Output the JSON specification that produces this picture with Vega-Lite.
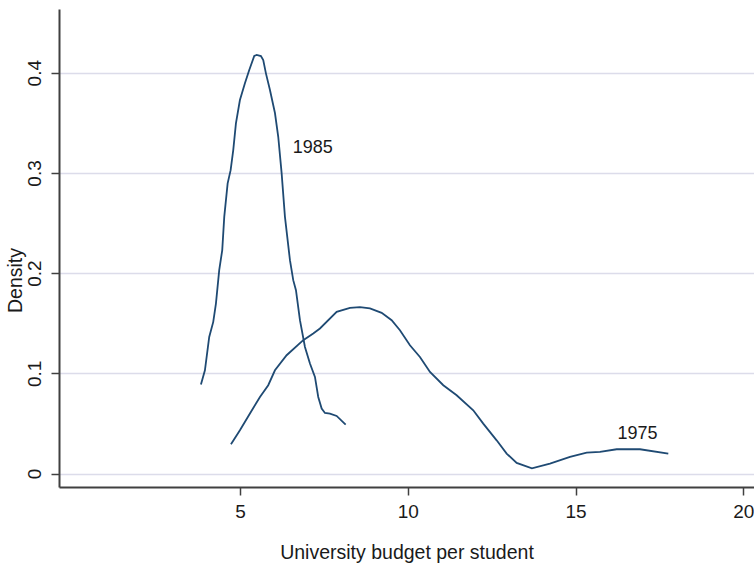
{
  "$schema": "https://vega.github.io/schema/vega-lite/v6.json",
  "width": 695,
  "height": 478,
  "autosize": {"type": "none"},
  "padding": {"left": 59, "top": 9, "right": 0, "bottom": 82},
  "background": "white",
  "config": {"view": {"stroke": null}, "font": "Liberation Sans"},
  "datasets": {
    "curves": [
      {"year": "1985", "x": 3.836, "y": 0.0889},
      {"year": "1985", "x": 3.955, "y": 0.1031},
      {"year": "1985", "x": 4.083, "y": 0.1364},
      {"year": "1985", "x": 4.203, "y": 0.1514},
      {"year": "1985", "x": 4.283, "y": 0.1697},
      {"year": "1985", "x": 4.381, "y": 0.2030},
      {"year": "1985", "x": 4.471, "y": 0.2230},
      {"year": "1985", "x": 4.531, "y": 0.2562},
      {"year": "1985", "x": 4.632, "y": 0.2896},
      {"year": "1985", "x": 4.721, "y": 0.3028},
      {"year": "1985", "x": 4.799, "y": 0.3228},
      {"year": "1985", "x": 4.879, "y": 0.3495},
      {"year": "1985", "x": 4.998, "y": 0.3728},
      {"year": "1985", "x": 5.147, "y": 0.3894},
      {"year": "1985", "x": 5.276, "y": 0.4027},
      {"year": "1985", "x": 5.425, "y": 0.4167},
      {"year": "1985", "x": 5.496, "y": 0.4177},
      {"year": "1985", "x": 5.624, "y": 0.4167},
      {"year": "1985", "x": 5.693, "y": 0.4127},
      {"year": "1985", "x": 5.773, "y": 0.3994},
      {"year": "1985", "x": 5.893, "y": 0.3828},
      {"year": "1985", "x": 6.042, "y": 0.3598},
      {"year": "1985", "x": 6.140, "y": 0.3361},
      {"year": "1985", "x": 6.241, "y": 0.2999},
      {"year": "1985", "x": 6.340, "y": 0.2562},
      {"year": "1985", "x": 6.489, "y": 0.2130},
      {"year": "1985", "x": 6.587, "y": 0.1930},
      {"year": "1985", "x": 6.668, "y": 0.1830},
      {"year": "1985", "x": 6.787, "y": 0.1531},
      {"year": "1985", "x": 6.936, "y": 0.1264},
      {"year": "1985", "x": 7.085, "y": 0.1098},
      {"year": "1985", "x": 7.234, "y": 0.0965},
      {"year": "1985", "x": 7.332, "y": 0.0765},
      {"year": "1985", "x": 7.434, "y": 0.0649},
      {"year": "1985", "x": 7.532, "y": 0.0605},
      {"year": "1985", "x": 7.681, "y": 0.0599},
      {"year": "1985", "x": 7.881, "y": 0.0575},
      {"year": "1985", "x": 8.149, "y": 0.0489},
      {"year": "1975", "x": 4.731, "y": 0.0293},
      {"year": "1975", "x": 4.998, "y": 0.0433},
      {"year": "1975", "x": 5.297, "y": 0.0599},
      {"year": "1975", "x": 5.595, "y": 0.0765},
      {"year": "1975", "x": 5.842, "y": 0.0882},
      {"year": "1975", "x": 6.042, "y": 0.1031},
      {"year": "1975", "x": 6.390, "y": 0.1181},
      {"year": "1975", "x": 6.885, "y": 0.1331},
      {"year": "1975", "x": 7.183, "y": 0.1398},
      {"year": "1975", "x": 7.383, "y": 0.1448},
      {"year": "1975", "x": 7.881, "y": 0.1614},
      {"year": "1975", "x": 8.277, "y": 0.1654},
      {"year": "1975", "x": 8.575, "y": 0.1662},
      {"year": "1975", "x": 8.873, "y": 0.1648},
      {"year": "1975", "x": 9.222, "y": 0.1604},
      {"year": "1975", "x": 9.520, "y": 0.1531},
      {"year": "1975", "x": 9.767, "y": 0.1431},
      {"year": "1975", "x": 10.065, "y": 0.1281},
      {"year": "1975", "x": 10.363, "y": 0.1164},
      {"year": "1975", "x": 10.662, "y": 0.1014},
      {"year": "1975", "x": 11.059, "y": 0.0882},
      {"year": "1975", "x": 11.457, "y": 0.0782},
      {"year": "1975", "x": 11.952, "y": 0.0632},
      {"year": "1975", "x": 12.250, "y": 0.0499},
      {"year": "1975", "x": 12.649, "y": 0.0332},
      {"year": "1975", "x": 12.947, "y": 0.0200},
      {"year": "1975", "x": 13.246, "y": 0.0106},
      {"year": "1975", "x": 13.700, "y": 0.0052},
      {"year": "1975", "x": 14.238, "y": 0.0100},
      {"year": "1975", "x": 14.835, "y": 0.0166},
      {"year": "1975", "x": 15.332, "y": 0.0210},
      {"year": "1975", "x": 15.729, "y": 0.0216},
      {"year": "1975", "x": 16.226, "y": 0.0243},
      {"year": "1975", "x": 16.921, "y": 0.0243},
      {"year": "1975", "x": 17.765, "y": 0.0200}
    ],
    "labels": [
      {"label": "1985", "x": 6.57, "y": 0.3248},
      {"label": "1975", "x": 16.25, "y": 0.0399}
    ]
  },
  "layer": [
    {
      "data": {"name": "curves"},
      "mark": {"type": "line", "color": "#1f4a73", "strokeWidth": 1.8},
      "encoding": {
        "x": {
          "field": "x",
          "type": "quantitative",
          "scale": {"domain": [-0.394, 20.319], "nice": false, "zero": false},
          "axis": {
            "values": [5, 10, 15, 20],
            "grid": false,
            "domainColor": "#404040",
            "domainWidth": 2,
            "tickColor": "#404040",
            "tickWidth": 1.5,
            "tickSize": 8,
            "labelFontSize": 19,
            "labelColor": "#1a1a1a",
            "labelPadding": 7,
            "labelFlush": false,
            "labelOverlap": false,
            "title": "University budget per student",
            "titleFontSize": 19.5,
            "titleFontWeight": "normal",
            "titleColor": "#1a1a1a",
            "titlePadding": 22
          }
        },
        "y": {
          "field": "y",
          "type": "quantitative",
          "scale": {"domain": [-0.01338, 0.4636], "nice": false, "zero": false},
          "axis": {
            "values": [0, 0.1, 0.2, 0.3, 0.4],
            "format": "~g",
            "grid": true,
            "gridColor": "#dcdcea",
            "gridWidth": 1.5,
            "domainColor": "#404040",
            "domainWidth": 2,
            "tickColor": "#404040",
            "tickWidth": 1.5,
            "tickSize": 8,
            "labelFontSize": 19,
            "labelColor": "#1a1a1a",
            "labelAngle": -90,
            "labelAlign": "center",
            "labelBaseline": "middle",
            "labelPadding": 16.5,
            "labelFlush": false,
            "labelOverlap": false,
            "title": "Density",
            "titleFontSize": 19.5,
            "titleFontWeight": "normal",
            "titleColor": "#1a1a1a",
            "titleAngle": -90,
            "titleAlign": "center",
            "titleBaseline": "middle",
            "titleX": -44,
            "titleY": 271
          }
        },
        "detail": {"field": "year"}
      }
    },
    {
      "data": {"name": "labels"},
      "mark": {"type": "text", "align": "left", "baseline": "middle", "fontSize": 18, "color": "#1a1a1a"},
      "encoding": {
        "x": {"field": "x", "type": "quantitative"},
        "y": {"field": "y", "type": "quantitative"},
        "text": {"field": "label"}
      }
    }
  ]
}
